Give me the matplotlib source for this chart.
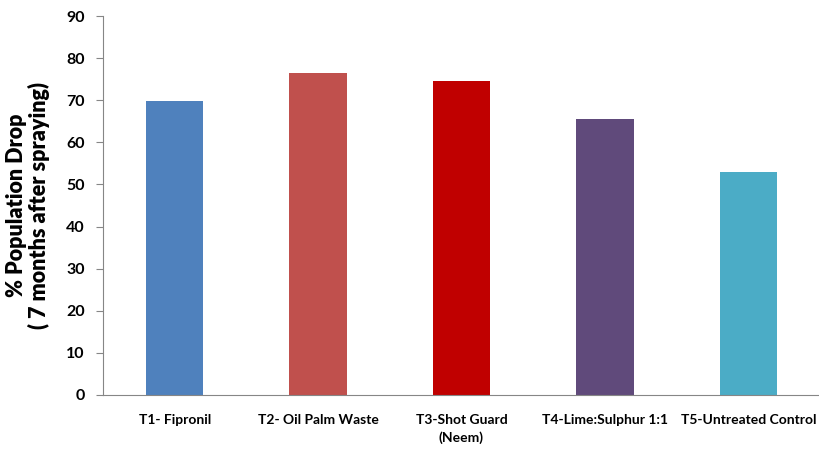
import matplotlib.pyplot as plt

plt.rcParams['font.family'] = ['Lato', 'DejaVu Sans']

treatments = ["T1- Fipronil", "T2- Oil Palm Waste", "T3-Shot Guard\n(Neem)",
              "T4-Lime:Sulphur 1:1", "T5-Untreated Control"]
drop = [69.8, 76.5, 74.6, 65.5, 53.0]
colors = ["#4f81bd", "#c0504d", "#c00000", "#604a7b", "#4bacc6"]

fig = plt.figure(figsize=(8.2, 4.49), dpi=100)
ax = fig.add_axes([103 / 820, 1 - 395 / 449, 1 - 103 / 820, (395 - 16) / 449])

x = range(len(treatments))
ax.bar(x, drop, width=0.4, color=colors)

ax.set_xlim(-0.5, 4.5)
ax.set_ylim(0, 90)
ax.set_yticks(range(0, 91, 10))
ax.set_xticks(list(x))
ax.set_xticklabels(treatments, fontsize=10, fontweight='bold', linespacing=1.5)
ax.tick_params(axis='x', length=0, pad=14)
ax.tick_params(axis='y', length=5, color='#868686', labelsize=11.5, pad=8)
for lab in ax.get_yticklabels():
    lab.set_fontweight('bold')

for s in ['top', 'right']:
    ax.spines[s].set_visible(False)
ax.spines['left'].set_color('#868686')
ax.spines['bottom'].set_color('#868686')

ax.set_ylabel("% Population Drop\n( 7 months after spraying)", fontsize=15.5,
              fontweight='heavy', labelpad=12, linespacing=1.05)

fig.savefig("out.png", dpi=100)
